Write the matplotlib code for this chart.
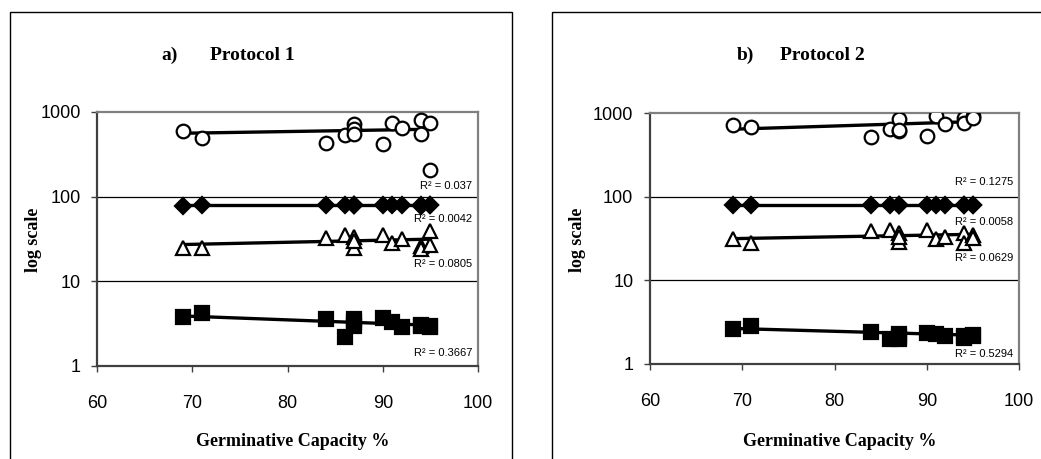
import numpy as np
import matplotlib
matplotlib.use("Agg")
import matplotlib.pyplot as plt
from matplotlib.patches import Rectangle

plt.rcParams["font.family"] = "Liberation Sans"

# germinative capacity of the 14 seed lots
gc = [69, 71, 84, 86, 87, 87, 87, 90, 91, 92, 94, 94, 95, 95]

# protocol 1
p1_circle = [603, 499, 435, 537, 716, 626, 547, 421, 748, 643, 805, 547, 736, 204]
p1_diamond = [78, 79, 79, 80, 80, 79, 79, 80, 79, 80, 78, 79, 79, 79]
p1_triangle = [24.5, 24.8, 32.7, 35.7, 33.5, 24.9, 30, 34.8, 28, 31.2, 26, 23.8, 27.2, 39]
p1_square = [3.74, 4.28, 3.55, 2.18, 3.6, 2.98, 3.3, 3.64, 3.27, 2.85, 3.0, 3.05, 2.98, 2.9]
# trendline values read at GC = 69 and GC = 95
p1_trend = [(561, 626), (79, 79), (27.2, 31.5), (3.9, 3.03)]
p1_r2 = ["0.037", "0.0042", "0.0805", "0.3667"]

# protocol 2
p2_circle = [720, 675, 522, 640, 841, 617, 620, 532, 921, 733, 864, 753, 921, 880]
p2_diamond = [80, 80, 80, 80, 80, 80, 80, 80, 80, 80, 80, 80, 80, 80]
p2_triangle = [30.8, 27.6, 38.6, 40.5, 37, 28.6, 33, 40.5, 30.8, 33, 36.3, 27.6, 34.4, 32]
p2_square = [2.61, 2.81, 2.38, 1.99, 2.27, 1.99, 2.1, 2.34, 2.27, 2.17, 2.17, 2.05, 2.2, 2.15]
p2_trend = [(640, 789), (80, 80), (31.5, 35.5), (2.66, 2.21)]
p2_r2 = ["0.1275", "0.0058", "0.0629", "0.5294"]

W, H = 1041, 459
fig = plt.figure(figsize=(W / 100, H / 100), dpi=100)


def px_axes(x0, x1, ytop, ybot):
    return fig.add_axes([x0 / W, (H - ybot) / H, (x1 - x0) / W, (ybot - ytop) / H])


def draw_panel(ax, series, trends, r2, r2_y, tag, title_x, tag_x, label_x, box):
    # outer chart border
    fig.patches.append(Rectangle((box[0] / W, -0.1), (box[1] - box[0]) / W, 0.1 + (H - 12) / H,
                                 transform=fig.transFigure, fill=False, ec="black", lw=1.0))
    styles = [
        dict(marker="o", mfc="white", ms=9.8),
        dict(marker="D", mfc="black", ms=8),
        dict(marker="^", mfc="white", ms=9.8),
        dict(marker="s", mfc="black", ms=9.8),
    ]
    xl = [min(gc), max(gc)]
    for vals, tr, st in zip(series, trends, styles):
        ax.plot(xl, tr, color="black", lw=2.4, zorder=3)
        ax.plot(gc, vals, ls="none", mec="black", mew=1.6, zorder=4, **st)
    for txt, yy in zip(r2, r2_y):
        ax.text(0.984, yy, "R² = " + txt, transform=ax.transAxes, ha="right", va="center",
                fontsize=8, zorder=5)

    ax.set_yscale("log")
    ax.set_ylim(1, 1000)
    ax.set_xlim(60, 100)
    ax.set_xticks([60, 70, 80, 90, 100])
    ax.set_yticks([1, 10, 100, 1000])
    ax.set_yticklabels(["1", "10", "100", "1000"])
    ax.minorticks_off()
    ax.tick_params(axis="both", direction="out", length=4, width=1, labelsize=13, color="#404040")
    ax.tick_params(axis="x", pad=17)
    ax.tick_params(axis="y", pad=8)
    for y in [10, 100]:
        ax.axhline(y, color="black", lw=0.9, zorder=1)
    ax.spines["left"].set_color("#404040")
    ax.spines["bottom"].set_color("#404040")
    ax.spines["top"].set_color("#808080")
    ax.spines["right"].set_color("#808080")
    for s in ax.spines.values():
        s.set_linewidth(1.6)

    fig.text(tag_x / W, 1 - 55 / H, tag[0], ha="center", va="center", family="Liberation Serif",
             weight="bold", fontsize=14)
    fig.text(title_x / W, 1 - 55 / H, tag[1], ha="left", va="center", family="Liberation Serif",
             weight="bold", fontsize=14)
    fig.text(label_x[0] / W, 1 - 442 / H, "Germinative Capacity %", ha="center", va="center",
             family="Liberation Serif", weight="bold", fontsize=13)
    fig.text(label_x[1] / W, 1 - 240 / H, "log scale", ha="center", va="center", rotation=90,
             family="Liberation Serif", weight="bold", fontsize=13)


ax1 = px_axes(97.3, 478, 112, 366)
draw_panel(ax1, [p1_circle, p1_diamond, p1_triangle, p1_square], p1_trend, p1_r2,
           [0.709, 0.579, 0.402, 0.051], ("a)", "Protocol 1"), 210, 170, (293, 33), (10, 512))

ax2 = px_axes(650, 1019, 113, 364)
draw_panel(ax2, [p2_circle, p2_diamond, p2_triangle, p2_square], p2_trend, p2_r2,
           [0.725, 0.566, 0.422, 0.040], ("b)", "Protocol 2"), 780, 745, (840, 577), (552, 1100))

fig.savefig("out.png", dpi=100)
